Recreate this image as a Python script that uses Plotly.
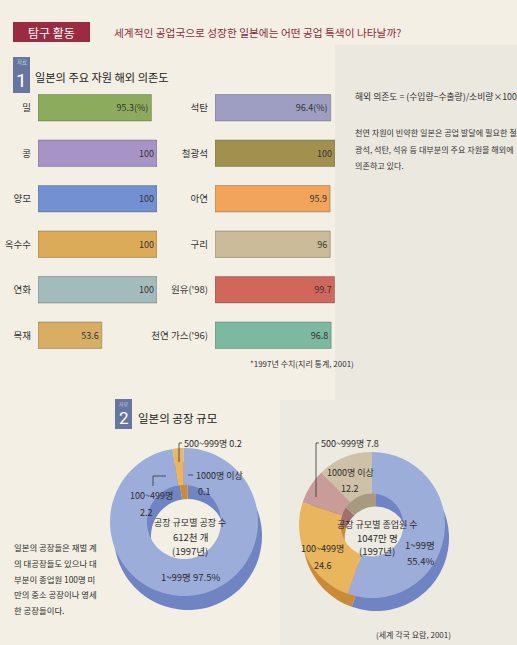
import plotly.graph_objects as go

W, H = 517, 645
FONT = "Noto Sans CJK KR"

# ---- data: 자료 1 ----
left_items = ["밀", "콩", "양모", "옥수수", "연화", "목재"]
left_values = [95.3, 100, 100, 100, 100, 53.6]
left_text = ["95.3(%)", "100", "100", "100", "100", "53.6"]
left_colors = ["#8dab5c", "#a793c6", "#7290d2", "#dcab57", "#a3bbbb", "#d8ae64"]

right_items = ["석탄", "철광석", "아연", "구리", "원유('98)", "천연 가스('96)"]
right_values = [96.4, 100, 95.9, 96, 99.7, 96.8]
right_text = ["96.4(%)", "100", "95.9", "96", "99.7", "96.8"]
right_colors = ["#9e9ec2", "#a2904f", "#f2a35c", "#cbbb98", "#d0675a", "#7db8a0"]

# ---- data: 자료 2 ----
size_labels = ["1~99명", "100~499명", "500~999명", "1000명 이상"]
factory_share = [97.5, 2.2, 0.2, 0.1]
worker_share = [55.4, 24.6, 7.8, 12.2]
pie_colors = ["#9dadda", "#e9b65e", "#c99c9a", "#cfc1a8"]
pie_side_colors = ["#7083c2", "#c98c34", "#a0716d", "#a89a80"]


def px(x):
    return x / W


def py(y):
    return 1 - y / H


fig = go.Figure()

# bars
fig.add_trace(go.Bar(
    y=left_items, x=left_values, orientation="h", text=left_text,
    textposition="inside", insidetextanchor="end",
    textfont=dict(family=FONT, size=9, color="#333333"),
    marker=dict(color=left_colors, line=dict(color="rgba(70,70,70,0.35)", width=1)),
    width=0.58, xaxis="x", yaxis="y", hoverinfo="skip", showlegend=False,
    cliponaxis=False))
fig.add_trace(go.Bar(
    y=right_items, x=right_values, orientation="h", text=right_text,
    textposition="inside", insidetextanchor="end",
    textfont=dict(family=FONT, size=9, color="#333333"),
    marker=dict(color=right_colors, line=dict(color="rgba(70,70,70,0.35)", width=1)),
    width=0.58, xaxis="x2", yaxis="y2", hoverinfo="skip", showlegend=False,
    cliponaxis=False))


def pie_dom(cx, cy, d):
    return dict(x=[px(cx - d / 2), px(cx + d / 2)], y=[py(cy + d / 2), py(cy - d / 2)])


# left donut (factories): side then front
for (cx, cy), cols in [((188, 536), pie_side_colors), ((184, 522), pie_colors)]:
    fig.add_trace(go.Pie(
        labels=size_labels, values=factory_share, hole=0.5, sort=False,
        direction="clockwise", rotation=0, textinfo="none", hoverinfo="skip",
        marker=dict(colors=cols, line=dict(width=0)),
        domain=pie_dom(cx, cy, 148), showlegend=False))

# right donut (workers)
for (cx, cy), cols in [((376, 538), pie_side_colors), ((372, 525), pie_colors)]:
    fig.add_trace(go.Pie(
        labels=size_labels, values=worker_share, hole=0.43, sort=False,
        direction="clockwise", rotation=0, textinfo="none", hoverinfo="skip",
        marker=dict(colors=cols, line=dict(width=0)),
        domain=pie_dom(cx, cy, 146), showlegend=False))

ann = []


def text(x, y, s, size=9, color="#2b2b2b", anchor="left", family=FONT, **kw):
    ann.append(dict(x=px(x), y=py(y), xref="paper", yref="paper", text=s,
                    showarrow=False, xanchor=anchor, yanchor="middle",
                    font=dict(family=family, size=size, color=color), **kw))


# header
text(51, 32, "탐구 활동", size=12, color="white", anchor="center")
text(112, 32, "세계적인 공업국으로 성장한 일본에는 어떤 공업 특색이 나타날까?", size=10.7, color="#8d2a3c")

# section 1
text(21.5, 62, "자료", size=5.5, color="#c8d0e6", anchor="center")
text(21.5, 80, "1", size=19, color="white", anchor="center", family="Roboto")
text(33, 77, "일본의 주요 자원 해외 의존도", size=11.2, color="#222222")
text(353, 96, "해외 의존도 = (수입량−수출량)/소비량×100", size=8.8, color="#333333")
text(353, 132, "천연 자원이 빈약한 일본은 공업 발달에 필요한 철", size=8.1, color="#333333")
text(353, 149, "광석, 석탄, 석유 등 대부분의 주요 자원을 해외에", size=8.1, color="#333333")
text(353, 166, "의존하고 있다.", size=8.1, color="#333333")
text(248, 363, "*1997년 수치(지리 통계, 2001)", size=8, color="#333333")

# section 2
text(123.5, 404, "자료", size=5, color="#c8d0e6", anchor="center")
text(123.5, 418, "2", size=17, color="white", anchor="center", family="Roboto")
text(136, 418, "일본의 공장 규모", size=11.5, color="#222222")

# left paragraph
for i, line in enumerate(["일본의 공장들은 재벌 계", "의 대공장들도 있으나 대",
                          "부분이 종업원 100명 미", "만의 중소 공장이나 영세",
                          "한 공장들이다."]):
    text(12, 547 + i * 15.8, line, size=8.4, color="#2b2b2b")

# left donut labels
text(182, 443, f"{size_labels[2]} {factory_share[2]}", size=9)
text(194, 475, f"{size_labels[3]}", size=9)
text(196, 491, f"{factory_share[3]}", size=9)
text(128, 495, f"{size_labels[1]}", size=9)
text(138, 512, f"{factory_share[1]}", size=9)
text(190, 522, "공장 규모별 공장 수", size=9, anchor="center")
text(190, 537, "612천 개", size=9.5, anchor="center")
text(190, 551, "(1997년)", size=9.5, anchor="center")
text(190, 577, f"{size_labels[0]} {factory_share[0]}%", size=9.5, anchor="center")

# right donut labels
text(319, 443, f"{size_labels[2]} {worker_share[2]}", size=9)
text(350, 472, f"{size_labels[3]}", size=9, anchor="center")
text(350, 488, f"{worker_share[3]}", size=9, anchor="center")
text(377, 524, "공장 규모별 종업원 수", size=9, anchor="center")
text(377, 538, "1047만 명", size=9.5, anchor="center")
text(377, 551, "(1997년)", size=9.5, anchor="center")
text(420, 545, f"{size_labels[0]}", size=9.5, anchor="center")
text(420, 561, f"{worker_share[0]}%", size=9.5, anchor="center")
text(322, 548, f"{size_labels[1]}", size=9, anchor="center")
text(323, 565, f"{worker_share[1]}", size=9, anchor="center")
text(413, 634, "(세계 각국 요람, 2001)", size=8, anchor="center", color="#333333")

line_c = "#333333"
shapes = [
    # backgrounds
    dict(type="rect", xref="paper", yref="paper", x0=px(335), x1=1, y0=py(400), y1=py(45),
         fillcolor="#ebe8df", line=dict(width=0), layer="below"),
    dict(type="rect", xref="paper", yref="paper", x0=px(280), x1=1, y0=py(645), y1=py(400),
         fillcolor="#edeae2", line=dict(width=0), layer="below"),
    # header box
    dict(type="rect", xref="paper", yref="paper", x0=px(13), x1=px(90), y0=py(42), y1=py(22),
         fillcolor="#9b2b42", line=dict(width=0), layer="below"),
    # badges
    dict(type="rect", xref="paper", yref="paper", x0=px(13), x1=px(30), y0=py(93), y1=py(57),
         fillcolor="#66769f", line=dict(width=0), layer="below"),
    dict(type="rect", xref="paper", yref="paper", x0=px(115), x1=px(132), y0=py(429), y1=py(399),
         fillcolor="#66769f", line=dict(width=0), layer="below"),
    # leader lines left donut
    dict(type="line", xref="paper", yref="paper", x0=px(179), x1=px(182), y0=py(443), y1=py(443),
         line=dict(color=line_c, width=0.8)),
    dict(type="line", xref="paper", yref="paper", x0=px(179), x1=px(179), y0=py(443), y1=py(462),
         line=dict(color=line_c, width=0.8)),
    dict(type="line", xref="paper", yref="paper", x0=px(188), x1=px(193), y0=py(475), y1=py(475),
         line=dict(color=line_c, width=0.8)),
    dict(type="line", xref="paper", yref="paper", x0=px(153), x1=px(166), y0=py(476), y1=py(476),
         line=dict(color=line_c, width=0.8)),
    dict(type="line", xref="paper", yref="paper", x0=px(153), x1=px(153), y0=py(476), y1=py(486),
         line=dict(color=line_c, width=0.8)),
    # leader line right donut
    dict(type="line", xref="paper", yref="paper", x0=px(316), x1=px(319), y0=py(443), y1=py(443),
         line=dict(color=line_c, width=0.8)),
    dict(type="line", xref="paper", yref="paper", x0=px(316), x1=px(316), y0=py(443), y1=py(497),
         line=dict(color=line_c, width=0.8)),
]

fig.update_layout(
    width=W, height=H, autosize=False,
    margin=dict(l=0, r=0, t=0, b=0),
    paper_bgcolor="#f3efe4", plot_bgcolor="rgba(0,0,0,0)",
    font=dict(family=FONT, color="#2b2b2b"),
    bargap=0.4,
    xaxis=dict(domain=[px(38), px(157)], range=[0, 100], visible=False, fixedrange=True),
    yaxis=dict(domain=[py(358), py(85)], range=[5.5, -0.5], type="category",
               showgrid=False, zeroline=False, showline=False, ticks="",
               ticklabelstandoff=6, tickfont=dict(family=FONT, size=9.5, color="#333333"),
               anchor="x", fixedrange=True),
    xaxis2=dict(domain=[px(215), px(335)], range=[0, 100], visible=False, anchor="y2",
                fixedrange=True),
    yaxis2=dict(domain=[py(358), py(85)], range=[5.5, -0.5], type="category",
                showgrid=False, zeroline=False, showline=False, ticks="",
                ticklabelstandoff=6, tickfont=dict(family=FONT, size=9.5, color="#333333"),
                anchor="x2", fixedrange=True),
    annotations=ann, shapes=shapes,
)

fig.write_html(
    "out.html",
    config={"displayModeBar": False},
    post_script="document.body.style.margin='0';document.body.style.overflow='hidden';",
)
